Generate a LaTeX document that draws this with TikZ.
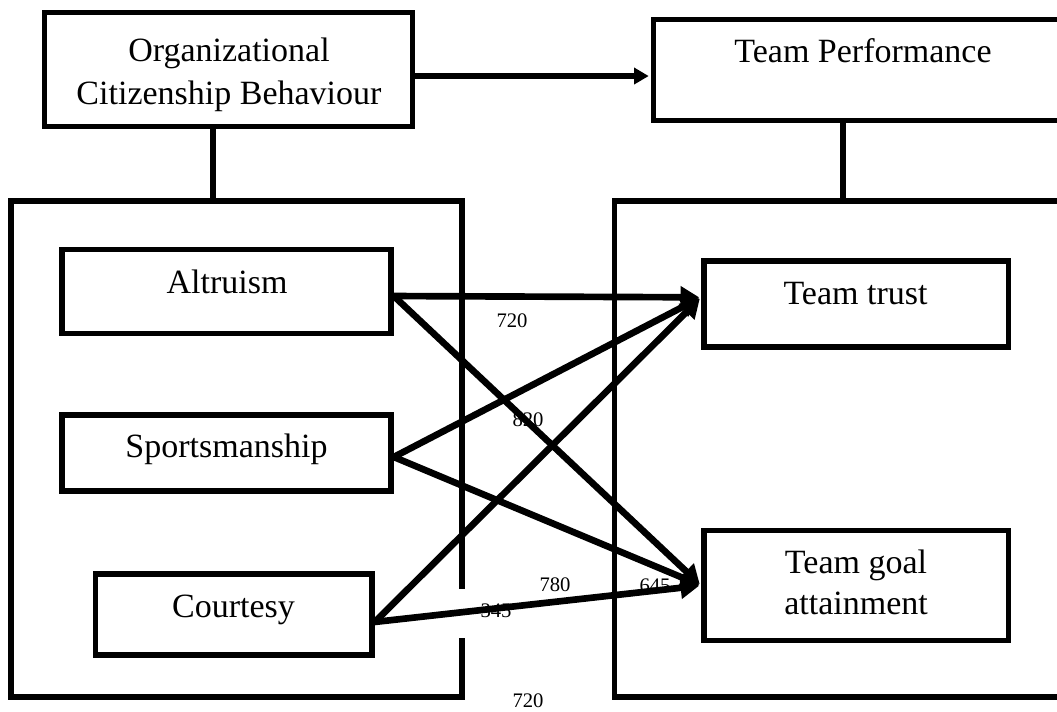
\documentclass[tikz,border=0pt]{standalone}
\usepackage{fontspec}
\setmainfont{Liberation Serif}
\usetikzlibrary{arrows.meta}
\begin{document}
\begin{tikzpicture}[x=0.75pt,y=-0.75pt,
  box/.style={draw, line width=4.2pt, inner sep=0pt},
  txt/.style={font=\fontsize{25.5pt}{31pt}\selectfont, inner sep=0pt},
  num/.style={font=\fontsize{15.5pt}{18pt}\selectfont, inner sep=0pt, anchor=base},
  conn/.style={line width=4pt},
  arr/.style={line width=5pt, -{Triangle[length=14pt,width=16pt]}, shorten >=1.5pt}]
\useasboundingbox (0,0) rectangle (1057,712);
\clip (0,0) rectangle (1057,712);
% outer boxes
\node[box, minimum width=276pt, minimum height=85.5pt] (ocb) at (228.5,69.5) {};
\node[box, minimum width=316.1pt, minimum height=75.75pt] (tp) at (864.25,70) {};
\node[box, minimum width=338.25pt, minimum height=372pt] (lbox) at (236.5,449) {};
\node[box, minimum width=345.4pt, minimum height=372pt] (rbox) at (844.75,449) {};
% inner boxes
\node[box, minimum width=246.75pt, minimum height=63pt] (alt) at (226.5,291.5) {};
\node[box, minimum width=246.75pt, minimum height=57pt] (spo) at (226.5,453) {};
\node[box, minimum width=207.4pt, minimum height=60.75pt] (cou) at (233.75,614.5) {};
\node[box, minimum width=228.4pt, minimum height=64.5pt] (trust) at (856.25,304) {};
\node[box, minimum width=228.4pt, minimum height=82.5pt] (goal) at (856.25,585.5) {};
% texts
\node[txt, align=center, font=\fontsize{25.5pt}{32.25pt}\selectfont] (ocbt) at (229,74.5) {Organizational\\Citizenship Behaviour};
\node[txt, anchor=base] (tpt) at (863,63) {Team Performance};
\node[txt, anchor=base] (altt) at (227,294) {Altruism};
\node[txt, anchor=base] (spot) at (226.5,458) {Sportsmanship};
\node[txt, anchor=base] (cout) at (233.5,618) {Courtesy};
\node[txt, anchor=base] (trustt) at (855.5,305) {Team trust};
\node[txt, align=center, font=\fontsize{25.5pt}{30.75pt}\selectfont] (goalt) at (856,582) {Team goal\\attainment};
% connectors between headers
\draw[conn] ([xshift=-11.6pt]ocb.south) -- ([xshift=-11.6pt]ocb.south |- lbox.north);
\draw[conn] ([xshift=-15.9pt]tp.south) -- ([xshift=-15.9pt]tp.south |- rbox.north);
\draw[arr, line width=4.8pt, -{Triangle[length=11pt,width=12pt]}] ([yshift=-4.9pt]ocb.east) -- ([yshift=-4.9pt]ocb.east -| tp.west);
% white patch on left box border
\fill[white] (456.5,589) rectangle (467.5,638);
% labels
\node[num] (l720a) at (512,328) {720};
\node[num] (l820) at (528,427) {820};
\node[num] (l780) at (555,591) {780};
\node[num] (l645) at (655,593) {645};
\node[num] (l345) at (496,618) {345};
\node[num] (l720b) at (528,707.5) {720};
% arrows
\draw[arr] ([yshift=-3.4pt]alt.east) -- ([yshift=5pt]trust.west);
\draw[arr] ([yshift=-3.4pt]alt.east) -- (goal.west);
\draw[arr] ([yshift=-3pt]spo.east) -- ([yshift=5pt]trust.west);
\draw[arr] ([yshift=-3pt]spo.east) -- (goal.west);
\draw[arr] ([yshift=-5.6pt]cou.east) -- ([yshift=5pt]trust.west);
\draw[arr] ([yshift=-5.6pt]cou.east) -- (goal.west);
\end{tikzpicture}
\end{document}
